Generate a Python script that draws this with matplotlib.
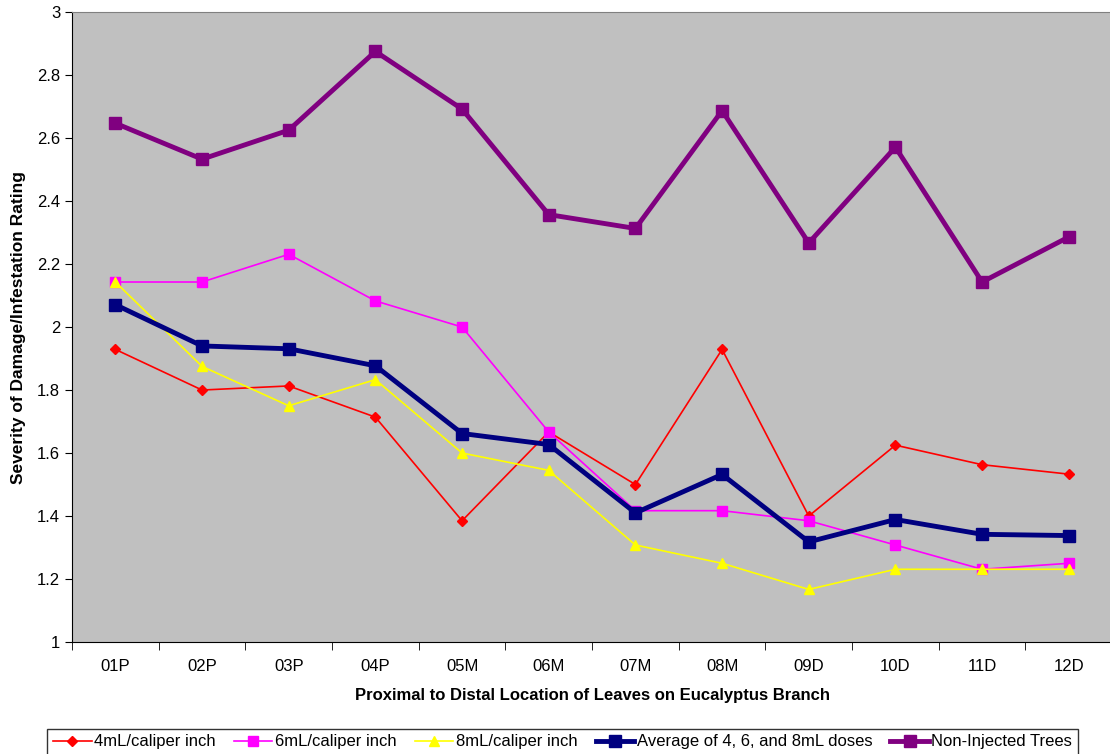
import numpy as np
import matplotlib.pyplot as plt

plt.rcParams['font.family'] = ['Liberation Sans', 'DejaVu Sans']

locations = ["01P", "02P", "03P", "04P", "05M", "06M", "07M", "08M", "09D", "10D", "11D", "12D"]

dose_4ml = [1.929, 1.800, 1.813, 1.714, 1.385, 1.667, 1.500, 1.929, 1.400, 1.625, 1.563, 1.533]
dose_6ml = [2.143, 2.143, 2.231, 2.083, 2.000, 1.667, 1.417, 1.417, 1.385, 1.308, 1.231, 1.250]
dose_8ml = [2.143, 1.875, 1.750, 1.833, 1.600, 1.545, 1.308, 1.250, 1.167, 1.231, 1.231, 1.231]
dose_avg = [2.071, 1.940, 1.931, 1.877, 1.662, 1.627, 1.410, 1.532, 1.318, 1.389, 1.342, 1.338]
non_injected = [2.647, 2.533, 2.625, 2.875, 2.692, 2.357, 2.313, 2.687, 2.267, 2.571, 2.143, 2.286]

fig = plt.figure(figsize=(11.1, 7.54), dpi=100)
ax = fig.add_axes([0.0649, 0.1485, 0.937, 0.8355])
ax.set_facecolor("#c0c0c0")

x = np.arange(len(locations))
ax.plot(x, dose_4ml, color="#ff0000", lw=1.2, marker="D", ms=5.5, label="4mL/caliper inch")
ax.plot(x, dose_6ml, color="#ff00ff", lw=1.2, marker="s", ms=7, label="6mL/caliper inch")
ax.plot(x, dose_8ml, color="#ffff00", lw=1.2, marker="^", ms=7.5, label="8mL/caliper inch")
ax.plot(x, dose_avg, color="#000080", lw=3.5, marker="s", ms=8, label="Average of 4, 6, and 8mL doses")
ax.plot(x, non_injected, color="#800080", lw=3.5, marker="s", ms=8, label="Non-Injected Trees")

ax.set_ylim(1, 3)
ax.set_yticks(np.arange(1, 3.01, 0.2))
ax.set_yticklabels(["1", "1.2", "1.4", "1.6", "1.8", "2", "2.2", "2.4", "2.6", "2.8", "3"], fontsize=12)
ax.set_xlim(-0.5, len(locations) - 0.5)
ax.set_xticks(x)
ax.set_xticklabels(locations, fontsize=12)
ax.tick_params(axis="x", length=0, pad=12)
ax.set_xticks(np.arange(-0.5, len(locations)), minor=True)
ax.tick_params(axis="x", which="minor", length=6, direction="out")
ax.tick_params(axis="y", length=5, direction="out")

for s in ["top", "right"]:
    ax.spines[s].set_color("#808080")
for s in ["left", "bottom"]:
    ax.spines[s].set_color("#000000")

ax.set_xlabel("Proximal to Distal Location of Leaves on Eucalyptus Branch",
              fontsize=12, fontweight="bold", labelpad=10)
ax.set_ylabel("Severity of Damage/Infestation Rating", fontsize=12.5, fontweight="bold", labelpad=8)

leg = fig.legend(loc="center", bbox_to_anchor=(0.507, 0.016), ncol=5, fontsize=12,
                 frameon=True, fancybox=False, edgecolor="black", borderpad=0.35,
                 handlelength=2.3, handletextpad=0.15, columnspacing=1.1)
leg.get_frame().set_linewidth(1.0)

fig.savefig("out.png", dpi=100)
